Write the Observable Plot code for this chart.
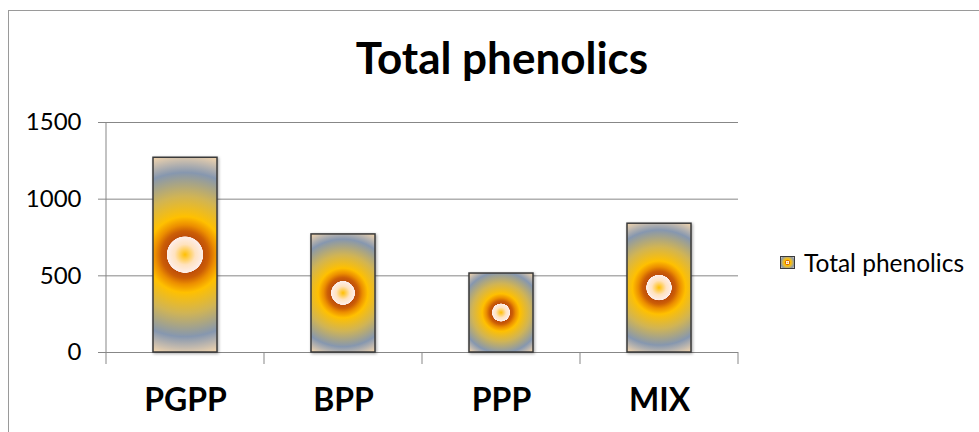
<!DOCTYPE html>
<html>
<head>
<meta charset="utf-8">
<script src="https://cdn.jsdelivr.net/npm/d3@7"></script>
<script src="https://cdn.jsdelivr.net/npm/@observablehq/plot@0.6"></script>
<style>
  body { margin: 0; background: #fff; }
  #wrap { position: relative; width: 979px; height: 432px; overflow: hidden; font-family: Lato, "Open Sans", sans-serif; color: #000; }
  #frame { position: absolute; left: 8px; top: 10px; width: 1200px; height: 600px; border-left: 1px solid #9a9a9a; border-top: 1px solid #9a9a9a; }
  #title { position: absolute; left: 502px; top: 31px; transform: translateX(-50%); white-space: nowrap; font-weight: 700; font-size: 44px; line-height: 1.2; }
  #legend { position: absolute; left: 780px; top: 248px; display: flex; align-items: center; white-space: nowrap; font-size: 24.5px; line-height: 1.2; }
  #swatch { width: 13px; height: 11px; border: 1.5px solid #3a3a3a; margin-right: 9px; box-sizing: content-box; }
  #chart { position: absolute; left: 0; top: 0; }
</style>
</head>
<body>
<div id="wrap">
  <div id="frame"></div>
  <div id="chart"></div>
  <div id="title"></div>
  <div id="legend"><div id="swatch"></div><span id="legend-label"></span></div>
</div>
<script>
// Total phenolics per extract
const categories = ["PGPP", "BPP", "PPP", "MIX"];
const phenolics = [1270, 770, 515, 840];
const yTicks = [0, 500, 1000, 1500];
const seriesName = "Total phenolics";

// Radial "glow" fill: offset along the half-diagonal of each bar, colour
const glowStops = [
  [0.00, "#FFC000"],
  [0.03, "#FFC93A"],
  [0.10, "#FFE2BE"],
  [0.175, "#FDEEEA"],
  [0.18, "#BE4E0A"],
  [0.23, "#CC5E06"],
  [0.29, "#EC8E00"],
  [0.37, "#FFC000"],
  [0.57, "#D0B455"],
  [0.80, "#8697AF"],
  [1.00, "#F6D7AD"]
];

const data = categories.map((category, i) => ({category, value: phenolics[i]}));

const width = 979, height = 432;
const chart = Plot.plot({
  width, height,
  marginLeft: 106, marginRight: 241, marginTop: 122, marginBottom: 80,
  style: {fontFamily: "Lato, 'Open Sans', sans-serif", background: "transparent", overflow: "visible"},
  x: {domain: categories, paddingInner: 0.595, paddingOuter: 0.2975, axis: null},
  y: {domain: [0, 1500], axis: null},
  marks: [
    Plot.gridY(yTicks, {stroke: "#878787", strokeOpacity: 1, strokeWidth: 1}),
    Plot.axisY({ticks: yTicks, tickSize: 8, tickPadding: 17, fontSize: 24, tickFormat: d => String(d), color: "#000", label: null}),
    Plot.barY(data, {x: "category", y: "value", fill: "#FFC000", stroke: "#3a3a3a", strokeWidth: 1.5}),
    Plot.text(categories, {x: d => d, frameAnchor: "bottom", dy: 48, lineAnchor: "middle", fontSize: 32, fontWeight: 700, fill: "#000"})
  ]
});

document.getElementById("chart").appendChild(chart);
document.getElementById("title").textContent = seriesName;
document.getElementById("legend-label").textContent = seriesName;
document.getElementById("swatch").style.background =
  "radial-gradient(circle farthest-corner, " + glowStops.map(([o, c]) => `${c} ${o * 100}%`).join(", ") + ")";

const svg = d3.select(chart);
const xs = chart.scale("x"), ys = chart.scale("y");

// axis tick colour
svg.selectAll('g[aria-label="y-axis tick"]').attr("stroke", "#878787");
svg.selectAll('g[aria-label="y-axis tick"] path').attr("stroke", "#878787");

// per-bar circular gradients
const defs = svg.insert("defs", ":first-child");
const barGroup = svg.select('g[aria-label="bar"]');
barGroup.style("filter", "drop-shadow(1.5px 1.5px 1.5px rgba(0,0,0,0.35))");
barGroup.selectAll("rect").each(function (_, i) {
  const r = d3.select(this);
  const x = +r.attr("x"), y = +r.attr("y"), w = +r.attr("width"), h = +r.attr("height");
  const id = "glow-" + i;
  const g = defs.append("radialGradient").attr("id", id).attr("gradientUnits", "userSpaceOnUse")
    .attr("cx", x + w / 2).attr("cy", y + h / 2).attr("r", Math.hypot(w, h) / 2);
  glowStops.forEach(([o, c]) => g.append("stop").attr("offset", o).attr("stop-color", c));
  r.attr("fill", `url(#${id})`);
});

// value axis line and category boundary ticks
const [x0, x1] = xs.range;
const y0 = ys.apply(0), yTop = ys.apply(1500);
const tickLen = 12;
const axes = svg.append("g").attr("stroke", "#878787").attr("stroke-width", 1);
axes.append("line").attr("x1", x0).attr("x2", x0).attr("y1", yTop).attr("y2", y0 + tickLen);
const step = (x1 - x0) / categories.length;
d3.range(1, categories.length + 1).forEach(k => {
  const x = x0 + k * step;
  axes.append("line").attr("x1", x).attr("x2", x).attr("y1", y0).attr("y2", y0 + tickLen);
});
</script>
</body>
</html>
